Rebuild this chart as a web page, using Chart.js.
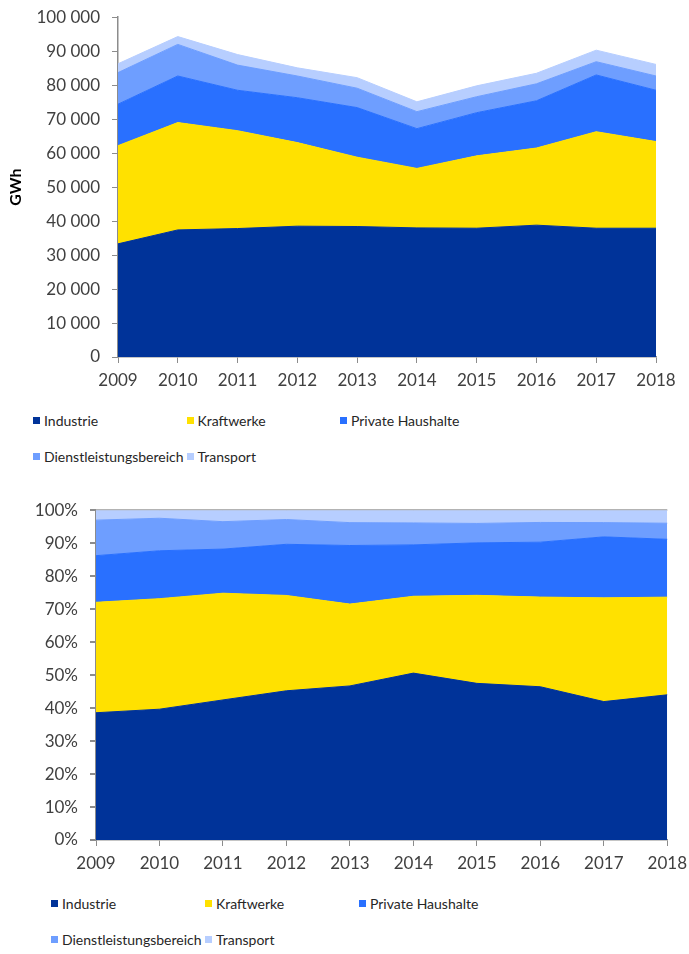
<!DOCTYPE html>
<html>
<head>
<meta charset="utf-8">
<script src="https://cdn.jsdelivr.net/npm/chart.js@4"></script>
<style>
  body { margin: 0; background: #fff; width: 689px; height: 954px; position: relative; overflow: hidden; font-family: Lato, sans-serif; }
  canvas { position: absolute; left: 0; }
  .legend { position: absolute; left: 0; width: 689px; }
  .item { position: absolute; display: flex; align-items: center; font-size: 14px; color: #262626; white-space: nowrap; }
  .item span.box { width: 7px; height: 7px; margin-right: 4px; display: inline-block; }
</style>
</head>
<body>
<canvas id="absChart" width="689" height="405" style="top:-5px"></canvas>
<div class="legend" id="absLegend" style="top:412px"></div>
<canvas id="pctChart" width="694" height="395" style="top:488px"></canvas>
<div class="legend" id="pctLegend" style="top:895px"></div>

<script>
// ============================================================
//  DONNÉES (GWh)
// ============================================================
const years      = ['2009', '2010', '2011', '2012', '2013', '2014', '2015', '2016', '2017', '2018'];
const industrie  = [33300, 37400, 37800, 38500, 38400, 38000, 37900, 38800, 37900, 37900];
const kraftwerke = [28900, 31600, 28800, 24600, 20400, 17500, 21300, 22700, 28400, 25500];
const haushalte  = [12200, 13700, 11900, 13200, 14600, 11700, 12700, 13900, 16700, 15100];
const dienst     = [ 9300,  9300,  7400,  6400,  5700,  5000,  4700,  5000,  3900,  4200];
const transport  = [ 2600,  2300,  3100,  2400,  3100,  2900,  3200,  3100,  3400,  3400];

const seriesNames = ['Industrie', 'Kraftwerke', 'Private Haushalte', 'Dienstleistungsbereich', 'Transport'];
const seriesData  = [industrie, kraftwerke, haushalte, dienst, transport];
const colors      = ['#003399', '#FFE100', '#2970FF', '#6E9EFF', '#B7CEFF'];

// parts en % pour le 2e graphique
const totals = years.map((y, i) => seriesData.reduce((s, arr) => s + arr[i], 0));
const shares = seriesData.map(arr => arr.map((v, i) => v / totals[i] * 100));

const tickFont = { family: 'Lato', size: 17 };
const textColor = '#404040';
const axisColor = '#8c8c8c';

function fmtThousands(v) {
  return String(v).replace(/\B(?=(\d{3})+(?!\d))/g, ' ');
}

function buildDatasets(values) {
  return seriesNames.map((name, i) => ({
    label: name,
    data: values[i],
    backgroundColor: colors[i],
    borderColor: colors[i],
    borderWidth: 1,
    pointRadius: 0,
    tension: 0,
    fill: i === 0 ? 'origin' : '-1'
  }));
}

function makeChart(canvasId, values, yOpts, axisWidth, padding) {
  return new Chart(document.getElementById(canvasId), {
    type: 'line',
    data: { labels: years, datasets: buildDatasets(values) },
    options: {
      responsive: false,
      animation: false,
      layout: { padding: padding },
      plugins: { legend: { display: false }, tooltip: { enabled: false } },
      scales: {
        x: {
          grid: { drawOnChartArea: false, color: axisColor, tickLength: 6 },
          border: { color: axisColor, width: 1.5 },
          ticks: { font: tickFont, color: textColor, maxRotation: 0, padding: 7 },
          afterFit: s => { s.height = 43; }
        },
        y: Object.assign({
          stacked: true,
          border: { color: axisColor, width: 1.5 },
          afterFit: s => { s.width = axisWidth; }
        }, yOpts)
      }
    }
  });
}

// ============================================================
//  GRAPHIQUE 1 — valeurs absolues
// ============================================================
makeChart('absChart', seriesData, {
  min: 0, max: 100000,
  grid: { drawOnChartArea: false, color: axisColor, tickLength: 6 },
  ticks: { stepSize: 10000, font: tickFont, color: textColor, padding: 12, callback: v => fmtThousands(v) },
  title: { display: true, text: 'GWh', color: '#000', font: { family: 'Lato', size: 16, weight: 'bold' }, padding: { top: 6, bottom: 0 } }
}, 118, { top: 1, right: 33, left: 0, bottom: 0 });

// ============================================================
//  GRAPHIQUE 2 — parts en %
// ============================================================
makeChart('pctChart', shares, {
  min: 0, max: 100,
  grid: {
    color: ctx => ctx.tick && ctx.tick.value === 100 ? '#b3b3b3' : 'rgba(0,0,0,0)',
    lineWidth: 2,
    tickColor: axisColor,
    tickLength: 6
  },
  ticks: { stepSize: 10, font: tickFont, color: textColor, padding: 12, callback: v => v + '%' }
}, 96, { top: 5, right: 18, left: 0, bottom: 0 });

// ============================================================
//  LÉGENDES HTML (grille 3 colonnes)
// ============================================================
function buildLegend(id, left, colWidth, rowGap) {
  const el = document.getElementById(id);
  seriesNames.forEach((name, i) => {
    const div = document.createElement('div');
    div.className = 'item';
    div.style.left = (left + (i % 3) * colWidth) + 'px';
    div.style.top = (Math.floor(i / 3) * rowGap) + 'px';
    div.innerHTML = '<span class="box" style="background:' + colors[i] + '"></span>' + name;
    el.appendChild(div);
  });
}
buildLegend('absLegend', 33, 153.5, 36);
buildLegend('pctLegend', 51, 154, 36);
</script>
</body>
</html>
